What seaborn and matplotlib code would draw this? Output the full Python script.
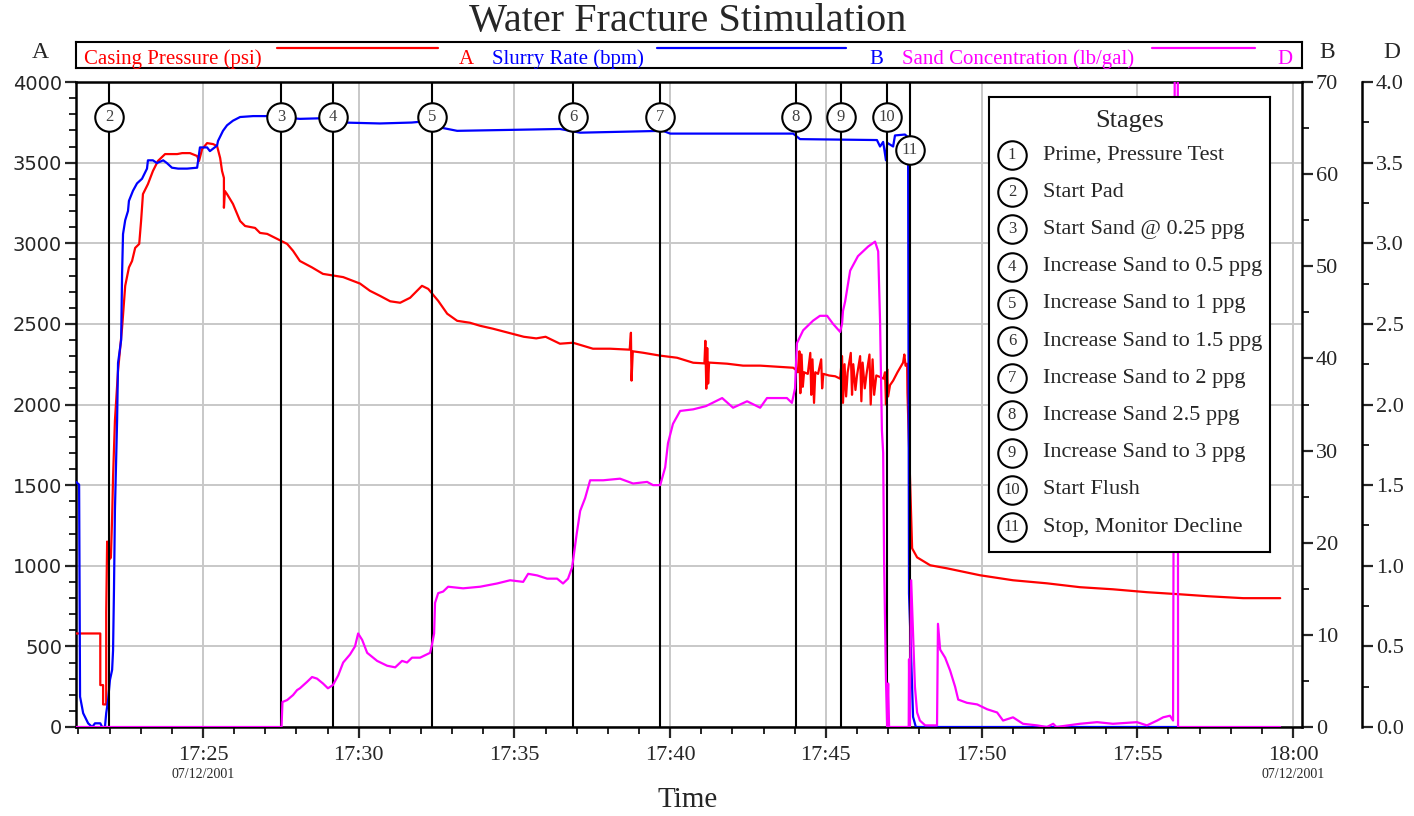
import matplotlib
matplotlib.use("Agg")
import matplotlib.pyplot as plt
import numpy as np
import pandas as pd
import seaborn as sns
from matplotlib.ticker import MultipleLocator, FuncFormatter

# ---------------- data (time = minutes after 17:00 on 07/12/2001) ----------------
pressure_t = [20.92, 21.70, 21.70, 21.79, 21.79, 21.89, 21.89, 21.92, 21.95, 22.04, 22.08, 22.11,
              22.17, 22.27, 22.40, 22.50, 22.62, 22.72, 22.82, 22.95, 23.01, 23.07, 23.23, 23.39,
              23.55, 23.78, 24.17, 24.33, 24.58, 24.81, 24.87, 24.97, 25.13, 25.32, 25.45, 25.55,
              25.61, 25.67, 25.67, 25.70, 25.77, 25.96, 26.19, 26.35, 26.67, 26.83, 27.06, 27.38,
              27.70, 27.89, 28.11, 28.50, 28.85, 29.17, 29.50, 30.04, 30.36, 30.68, 31.01, 31.33,
              31.65, 32.03, 32.23, 32.55, 32.84, 33.16, 33.57, 33.90, 34.31, 34.90, 35.30, 35.70,
              36.00, 36.46, 36.88, 37.52, 38.07, 38.70, 38.74, 38.76, 38.80, 39.13, 39.68, 40.22,
              40.74, 41.10, 41.13, 41.16, 41.19, 41.22, 41.25, 41.83, 42.34, 42.89, 43.95, 44.04,
              44.10, 44.15, 44.18, 44.22, 44.26, 44.30, 44.42, 44.50, 44.53, 44.57, 44.62, 44.66,
              44.75, 44.85, 44.88, 44.92, 45.10, 45.30, 45.46, 45.52, 45.55, 45.60, 45.65, 45.70,
              45.80, 45.84, 45.88, 45.95, 46.00, 46.10, 46.14, 46.18, 46.25, 46.30, 46.40, 46.44,
              46.50, 46.55, 46.62, 46.75, 46.85, 46.90, 46.93, 46.97, 47.00, 47.06, 47.16, 47.30,
              47.48, 47.52, 47.56, 47.61, 47.62, 47.77, 47.93, 48.35, 48.89, 49.95, 51.01, 52.10,
              53.16, 54.22, 55.31, 56.37, 57.27, 58.40, 59.59]
pressure_psi = [580, 580, 260, 260, 140, 140, 710, 1150, 1030, 1050, 1300, 1550,
                1900, 2210, 2476, 2736, 2850, 2890, 2971, 2996, 3138, 3305, 3367, 3448,
                3510, 3553, 3553, 3559, 3559, 3541, 3510, 3584, 3621, 3615, 3603, 3528,
                3448, 3405, 3220, 3324, 3305, 3244, 3138, 3107, 3095, 3064, 3058, 3027,
                2996, 2953, 2890, 2850, 2810, 2800, 2790, 2750, 2705, 2674, 2640, 2631,
                2662, 2736, 2717, 2643, 2563, 2519, 2507, 2488, 2470, 2440, 2420, 2410,
                2420, 2377, 2383, 2346, 2346, 2340, 2445, 2148, 2330, 2321, 2303, 2290,
                2259, 2255, 2395, 2098, 2350, 2130, 2260, 2253, 2241, 2241, 2228, 2215,
                2200, 2330, 2070, 2310, 2110, 2200, 2190, 2320, 2060, 2280, 2010, 2200,
                2190, 2280, 2100, 2190, 2180, 2175, 2160, 2300, 2010, 2250, 2050, 2200,
                2320, 2060, 2250, 2090, 2180, 2300, 2020, 2260, 2100, 2180, 2310, 2000,
                2280, 2060, 2180, 2170, 2160, 2200, 2000, 2220, 2050, 2120, 2148, 2200,
                2260, 2310, 2240, 2253, 2073, 1108, 1052, 1003, 984, 941, 910, 891,
                867, 854, 836, 823, 811, 799, 799]

rate_t = [20.92, 21.02, 21.05, 21.15, 21.31, 21.44, 21.53, 21.70, 21.76, 21.85, 21.89, 21.95,
          22.01, 22.08, 22.11, 22.14, 22.17, 22.24, 22.27, 22.37, 22.40, 22.43, 22.50, 22.59,
          22.62, 22.75, 22.88, 23.04, 23.20, 23.23, 23.39, 23.52, 23.72, 23.84, 24.00, 24.20,
          24.49, 24.81, 24.90, 25.13, 25.22, 25.45, 25.48, 25.64, 25.77, 25.96, 26.19, 26.61,
          27.06, 28.11, 29.17, 29.50, 30.68, 31.70, 32.35, 32.71, 33.16, 36.46, 37.11, 39.77,
          40.00, 43.95, 44.17, 46.64, 46.74, 46.84, 46.93, 46.97, 47.16, 47.22, 47.54, 47.64,
          47.67, 47.77, 47.80, 47.89, 56.28]
rate_bpm = [26.6, 26.3, 3.3, 1.5, 0.4, 0.0, 0.4, 0.4, 0.0, 0.0, 1.5, 2.9,
            5.1, 6.2, 8.3, 15.0, 23.5, 33.3, 39.5, 42.0, 49.2, 53.5, 55.0, 56.0,
            57.1, 58.2, 59.0, 59.5, 60.6, 61.5, 61.5, 61.2, 61.5, 61.2, 60.7, 60.6,
            60.6, 60.7, 62.9, 62.9, 62.5, 63.1, 63.6, 64.7, 65.3, 65.8, 66.2, 66.3,
            66.3, 66.0, 66.1, 65.6, 65.5, 65.6, 65.8, 65.0, 64.7, 64.9, 64.5, 64.7,
            64.4, 64.4, 63.8, 63.7, 63.0, 63.5, 61.5, 63.4, 63.0, 64.2, 64.3, 64.0,
            14.5, 4.3, 1.1, 0.0, 0.0]

sand_t = [20.92, 27.52, 27.55, 27.70, 27.89, 28.02, 28.11, 28.34, 28.50, 28.66, 28.85, 29.01,
          29.17, 29.34, 29.50, 29.72, 29.88, 29.98, 30.11, 30.27, 30.59, 30.91, 31.17, 31.39,
          31.55, 31.71, 31.97, 32.29, 32.35, 32.42, 32.45, 32.55, 32.71, 32.87, 33.35, 33.90,
          34.44, 34.86, 35.28, 35.44, 35.73, 36.05, 36.37, 36.56, 36.72, 36.85, 36.88, 37.00,
          37.11, 37.27, 37.43, 37.85, 38.39, 38.81, 39.26, 39.45, 39.68, 39.84, 39.93, 40.09,
          40.32, 40.74, 41.15, 41.67, 42.02, 42.47, 42.89, 43.11, 43.75, 43.91, 44.01, 44.07,
          44.27, 44.59, 44.81, 45.04, 45.23, 45.46, 45.52, 45.55, 45.62, 45.78, 46.03, 46.36,
          46.58, 46.68, 46.74, 46.80, 46.84, 46.87, 46.93, 46.97, 47.00, 47.03, 47.66, 47.67,
          47.69, 47.74, 47.80, 47.86, 47.93, 48.02, 48.19, 48.57, 48.60, 48.67, 48.83, 48.99,
          49.15, 49.25, 49.53, 49.86, 50.18, 50.50, 50.69, 51.01, 51.33, 51.78, 52.10, 52.30,
          52.40, 53.16, 53.71, 54.22, 54.99, 55.31, 55.64, 55.83, 56.05, 56.15, 56.21, 56.30,
          56.31, 59.59]
sand_ppg = [0.0, 0.0, 0.155, 0.167, 0.198, 0.229, 0.24, 0.28, 0.31, 0.30, 0.27, 0.24,
            0.26, 0.32, 0.40, 0.45, 0.50, 0.58, 0.54, 0.46, 0.41, 0.38, 0.37, 0.41,
            0.40, 0.43, 0.43, 0.46, 0.51, 0.58, 0.77, 0.83, 0.84, 0.87, 0.86, 0.87,
            0.89, 0.91, 0.90, 0.95, 0.94, 0.92, 0.92, 0.89, 0.92, 0.99, 1.03, 1.20,
            1.34, 1.42, 1.53, 1.53, 1.54, 1.51, 1.52, 1.50, 1.50, 1.61, 1.76, 1.88,
            1.96, 1.97, 1.99, 2.04, 1.98, 2.02, 1.98, 2.04, 2.04, 2.01, 2.10, 2.38,
            2.46, 2.52, 2.55, 2.55, 2.50, 2.45, 2.50, 2.58, 2.64, 2.83, 2.92, 2.98,
            3.01, 2.95, 2.52, 1.84, 1.70, 1.03, 0.29, 0.0, 0.27, 0.0, 0.0, 0.42,
            0.0, 0.91, 0.58, 0.25, 0.09, 0.04, 0.01, 0.01, 0.64, 0.48, 0.43, 0.35,
            0.25, 0.17, 0.15, 0.14, 0.11, 0.09, 0.04, 0.06, 0.02, 0.01, 0.0, 0.02,
            0.0, 0.02, 0.03, 0.02, 0.03, 0.01, 0.04, 0.06, 0.07, 0.04, 4.6, 4.6,
            0.0, 0.0]

stage_nums = ["2", "3", "4", "5", "6", "7", "8", "9", "10", "11"]
stage_t = [21.98, 27.50, 29.17, 32.35, 36.88, 39.68, 44.04, 45.49, 46.97, 47.70]
stage_label_psi = [3780, 3780, 3780, 3780, 3780, 3780, 3780, 3780, 3780, 3580]

legend_nums = ["1", "2", "3", "4", "5", "6", "7", "8", "9", "10", "11"]
legend_desc = ["Prime, Pressure Test", "Start Pad", "Start Sand @ 0.25 ppg",
               "Increase Sand to 0.5 ppg", "Increase Sand to 1 ppg", "Increase Sand to 1.5 ppg",
               "Increase Sand to 2 ppg", "Increase Sand 2.5 ppg", "Increase Sand to 3 ppg",
               "Start Flush", "Stop, Monitor Decline"]

x_major_ticks = [25, 30, 35, 40, 45, 50, 55, 60]
x_tick_labels = ["17:25", "17:30", "17:35", "17:40", "17:45", "17:50", "17:55", "18:00"]
date_label = "07/12/2001"

# ---------------- style ----------------
sns.set_theme(style="white")
SERIF = "Liberation Serif"
plt.rcParams["font.family"] = [SERIF, "DejaVu Sans"]
plt.rcParams["axes.linewidth"] = 1.8

RED, BLUE, MAG = "#ff0000", "#0000ff", "#ff00ff"
W, H = 1414, 816

fig = plt.figure(figsize=(14.14, 8.16), dpi=100)
L, R, T, B = 76, 1302, 82, 727
ax = fig.add_axes([L / W, 1 - B / H, (R - L) / W, (B - T) / H])
axB = ax.twinx()
axD = ax.twinx()

df_p = pd.DataFrame({"t": pressure_t, "v": pressure_psi})
df_r = pd.DataFrame({"t": rate_t, "v": rate_bpm})
df_s = pd.DataFrame({"t": sand_t, "v": sand_ppg})

sns.lineplot(data=df_p, x="t", y="v", ax=ax, color=RED, lw=1.6, estimator=None, sort=False, zorder=3)
sns.lineplot(data=df_r, x="t", y="v", ax=axB, color=BLUE, lw=1.6, estimator=None, sort=False, zorder=3)
sns.lineplot(data=df_s, x="t", y="v", ax=axD, color=MAG, lw=1.6, estimator=None, sort=False, zorder=3)

xlim = (20.92, 60.29)
for a in (ax, axB, axD):
    a.set_xlim(*xlim)
    a.set_xlabel("")
    a.set_ylabel("")
ax.set_ylim(0, 4000)
axB.set_ylim(0, 70)
axD.set_ylim(0, 4.0)

# grid
ax.set_axisbelow(True)
ax.grid(True, which="major", color="#c8c8c8", lw=1.4)

# x axis
ax.xaxis.set_major_locator(MultipleLocator(5))
ax.xaxis.set_minor_locator(MultipleLocator(1))
ax.set_xticks(x_major_ticks)
ax.set_xticklabels(x_tick_labels, fontfamily=SERIF, fontsize=16)
ax.tick_params(axis="x", which="major", direction="out", length=8, width=1.6, pad=6, bottom=True)
ax.tick_params(axis="x", which="minor", direction="out", length=5, width=1.4, bottom=True)
for t_ in (25, 60):
    ax.text(t_, -0.073, date_label, transform=ax.get_xaxis_transform(), ha="center", va="center",
            fontsize=10, fontfamily=SERIF)

# left y axis (A)
ax.yaxis.set_major_locator(MultipleLocator(500))
ax.yaxis.set_minor_locator(MultipleLocator(100))
ax.tick_params(axis="y", which="major", direction="out", length=8, width=1.6, pad=2, left=True, right=False)
ax.tick_params(axis="y", which="minor", direction="out", length=5, width=1.4, left=True, right=False)
for lab in ax.get_yticklabels():
    lab.set_fontfamily("DejaVu Sans")
    lab.set_fontsize(14)
ax.spines["right"].set_visible(False)
for s in ("left", "top", "bottom"):
    ax.spines[s].set_color("black")

# right axis B
axB.yaxis.set_major_locator(MultipleLocator(10))
axB.yaxis.set_minor_locator(MultipleLocator(5))
axB.tick_params(axis="y", which="major", direction="out", length=8, width=1.6, pad=2, labelsize=16)
axB.tick_params(axis="y", which="minor", direction="out", length=5, width=1.4)
for s in ("left", "top", "bottom"):
    axB.spines[s].set_visible(False)
axB.spines["right"].set_color("black")

# right axis D
axD.spines["right"].set_position(("axes", (1362 - L) / (R - L)))
axD.yaxis.set_major_locator(MultipleLocator(0.5))
axD.yaxis.set_minor_locator(MultipleLocator(0.25))
axD.yaxis.set_major_formatter(FuncFormatter(lambda v, p: f"{v:.1f}"))
axD.tick_params(axis="y", which="major", direction="out", length=8, width=1.6, pad=2, labelsize=16)
axD.tick_params(axis="y", which="minor", direction="out", length=5, width=1.4)
for s in ("left", "top", "bottom"):
    axD.spines[s].set_visible(False)
axD.spines["right"].set_color("black")

# stage lines and markers (drawn in D units: D = psi / 1000)
for t_ in stage_t:
    axD.axvline(t_, color="black", lw=1.5, zorder=2)
df_st = pd.DataFrame({"t": stage_t, "y": [v / 1000 for v in stage_label_psi]})
sns.scatterplot(data=df_st, x="t", y="y", ax=axD, s=420, facecolor="white", edgecolor="black",
                linewidth=1.5, zorder=6, legend=False)
for n, t_, v in zip(stage_nums, stage_t, stage_label_psi):
    axD.text(t_, v / 1000, n, ha="center", va="center", fontsize=12, color="#404040",
             fontfamily=SERIF, zorder=7)
axD.set_xlabel("")
axD.set_ylabel("")

# axis letters, title, xlabel
fig.text(40 / W, 1 - 52 / H, "A", fontsize=17, ha="center", va="center", fontfamily=SERIF)
fig.text(1327 / W, 1 - 52 / H, "B", fontsize=17, ha="center", va="center", fontfamily=SERIF)
fig.text(1392 / W, 1 - 52 / H, "D", fontsize=17, ha="center", va="center", fontfamily=SERIF)
fig.text(688 / W, 1 - 22 / H, "Water Fracture Stimulation", fontsize=29, ha="center", va="center",
         fontfamily=SERIF)
fig.text(688 / W, 1 - 800 / H, "Time", fontsize=21, ha="center", va="center", fontfamily=SERIF)

# top series legend strip
lg = fig.add_axes([L / W, 1 - 68 / H, (R - L) / W, 26 / H])
lg.set_xlim(L, R)
lg.set_ylim(68, 42)
lg.set_xticks([])
lg.set_yticks([])
for s in lg.spines.values():
    s.set_color("black")
    s.set_linewidth(1.5)
series_names = ["Casing Pressure (psi)", "Slurry Rate (bpm)", "Sand Concentration (lb/gal)"]
series_axis = ["A", "B", "D"]
series_colors = [RED, BLUE, MAG]
txt_x = [84, 492, 902]
line_x = [(277, 438), (657, 846), (1152, 1255)]
letter_x = [466, 876, 1285]
for name, letter, c, tx, (x0, x1), lx in zip(series_names, series_axis, series_colors, txt_x, line_x, letter_x):
    lg.text(tx, 59, name, color=c, fontsize=15, ha="left", va="center", fontfamily=SERIF)
    lg.plot([x0, x1], [48, 48], color=c, lw=1.6)
    lg.text(lx, 59, letter, color=c, fontsize=15, ha="center", va="center", fontfamily=SERIF)

# stages box
sb = fig.add_axes([989 / W, 1 - 552 / H, 281 / W, 455 / H])
sb.set_zorder(20)
sb.set_facecolor("white")
sb.set_xlim(0, 281)
sb.set_ylim(455, 0)
sb.set_xticks([])
sb.set_yticks([])
for s in sb.spines.values():
    s.set_color("black")
    s.set_linewidth(1.5)
sb.text(141, 24, "Stages", fontsize=19, ha="center", va="center", fontfamily=SERIF)
row_y = [58 + 37.2 * i for i in range(len(legend_nums))]
sns.scatterplot(x=[23] * len(row_y), y=row_y, ax=sb, s=420, facecolor="white", edgecolor="black",
                linewidth=1.5, legend=False)
for n, d, y in zip(legend_nums, legend_desc, row_y):
    sb.text(23, y, n, fontsize=12, ha="center", va="center", color="#303030", fontfamily=SERIF)
    sb.text(54, y, d, fontsize=16, ha="left", va="center", fontfamily=SERIF)
sb.set_xlabel("")
sb.set_ylabel("")

fig.savefig("out.png", dpi=100)
